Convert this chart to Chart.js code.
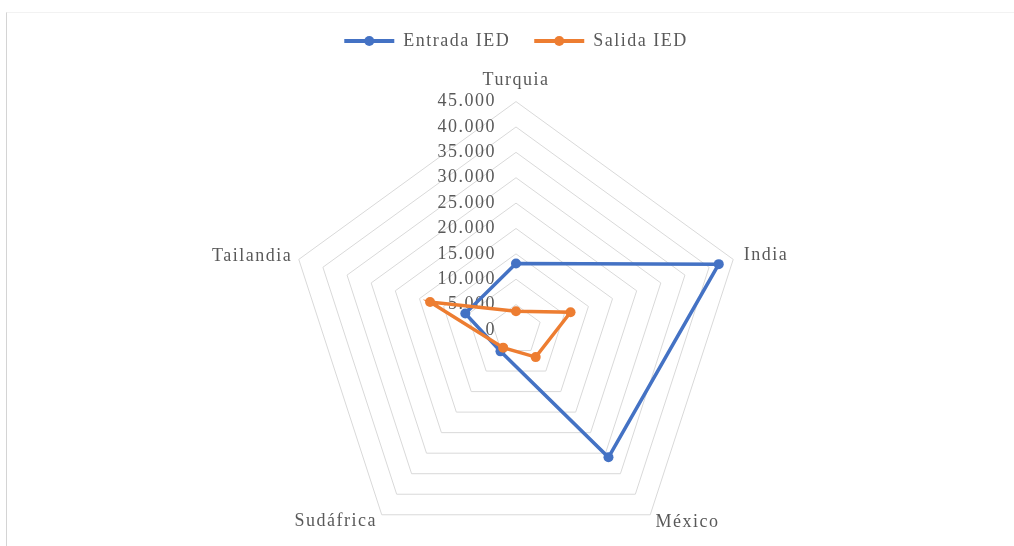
<!DOCTYPE html>
<html lang="es">
<head>
<meta charset="utf-8">
<title>Entrada y salida de IED</title>
<script src="https://cdn.jsdelivr.net/npm/chart.js@4.4.1/dist/chart.umd.min.js"></script>
<style>
  html, body { margin: 0; padding: 0; background: #fff; overflow: hidden; width: 1014px; height: 546px; }
  #marco { position: absolute; left: 6px; top: 12px; width: 1100px; height: 600px;
           border-left: 1px solid #d4d4d4; border-top: 1px solid #f2f2f2; }
  /* el lienzo sigue algo por debajo del borde inferior visible */
  #grafico { position: absolute; left: 0; top: 0; width: 1014px; height: 576px; }
</style>
</head>
<body>
<div id="marco"></div>
<div id="grafico"><canvas id="radar"></canvas></div>
<script>
"use strict";

// datos (millones de USD)
var paises = ['Turquia', 'India', 'México', 'Sudáfrica', 'Tailandia'];
var entradaIED = [13100, 42000, 31000, 5200, 10500];
var salidaIED = [3700, 11300, 6600, 4300, 17800];
var escalaMax = 45000;
var escalaPaso = 5000;

var colorTexto = '#595959';
var serif = "'Liberation Serif', 'Times New Roman', serif";
var azul = '#4472C4';
var naranja = '#ED7D31';

function formatoMiles(v) {
    return String(v).replace(/\B(?=(\d{3})+(?!\d))/g, '.');
}

// texto algo más espaciado, como en la hoja original
var espaciado = {
    id: 'espaciado',
    beforeLayout: function (chart) { chart.ctx.letterSpacing = '1.5px'; },
    beforeDraw: function (chart) { chart.ctx.letterSpacing = '1.5px'; }
};

// etiquetas del eje a la izquierda del eje vertical, por debajo de las series
var etiquetasEje = {
    id: 'etiquetasEje',
    beforeDatasetsDraw: function (chart) {
        var scale = chart.scales.r;
        var ctx = chart.ctx;
        ctx.save();
        ctx.font = '18px ' + serif;
        ctx.fillStyle = colorTexto;
        ctx.textAlign = 'right';
        ctx.textBaseline = 'middle';
        scale.ticks.forEach(function (tick) {
            var d = scale.getDistanceFromCenterForValue(tick.value);
            ctx.fillText(tick.label, scale.xCenter - 20, scale.yCenter - d);
        });
        ctx.restore();
    }
};

// punto en medio de la línea de la leyenda
var marcadorLeyenda = {
    id: 'marcadorLeyenda',
    afterDraw: function (chart) {
        var legend = chart.legend;
        var labels = legend.options.labels;
        var ctx = chart.ctx;
        ctx.save();
        legend.legendItems.forEach(function (item, i) {
            var box = legend.legendHitBoxes[i];
            ctx.fillStyle = item.strokeStyle;
            ctx.beginPath();
            ctx.arc(box.left + labels.boxWidth / 2, box.top + labels.font.size / 2, 5, 0, Math.PI * 2);
            ctx.fill();
        });
        ctx.restore();
    }
};

var radarCtx = document.getElementById('radar');
var radar = new Chart(radarCtx, {
    type: 'radar',
    data: {
        labels: paises,
        datasets: [{
            label: 'Entrada IED',
            data: entradaIED,
            borderColor: azul,
            backgroundColor: azul,
            pointBackgroundColor: azul,
            borderWidth: 3.5,
            pointRadius: 5,
            pointBorderWidth: 0,
            fill: false,
            order: 1
        }, {
            label: 'Salida IED',
            data: salidaIED,
            borderColor: naranja,
            backgroundColor: naranja,
            pointBackgroundColor: naranja,
            borderWidth: 3.5,
            pointRadius: 5,
            pointBorderWidth: 0,
            fill: false,
            order: 0
        }]
    },
    options: {
        responsive: true,
        maintainAspectRatio: false,
        animation: false,
        layout: {
            padding: { top: 8, left: 18, right: 0, bottom: 0 }
        },
        scales: {
            r: {
                min: 0,
                max: escalaMax,
                ticks: {
                    stepSize: escalaPaso,
                    display: false,
                    callback: formatoMiles
                },
                grid: { color: '#d9d9d9', lineWidth: 1 },
                angleLines: { display: false },
                pointLabels: {
                    color: colorTexto,
                    padding: function (c) { return [11, 11, 9, 8, 7][c.index]; },
                    font: function (c) {
                        return { family: serif, size: 18, lineHeight: c.index === 0 ? 1.2 : '1px' };
                    }
                }
            }
        },
        plugins: {
            tooltip: { enabled: false },
            legend: {
                position: 'top',
                maxHeight: 45,
                labels: {
                    boxWidth: 50,
                    boxHeight: 4,
                    padding: 24,
                    color: colorTexto,
                    font: { family: serif, size: 18 },
                    sort: function (a, b) { return a.datasetIndex - b.datasetIndex; },
                    generateLabels: function (chart) {
                        return Chart.defaults.plugins.legend.labels.generateLabels(chart).map(function (item) {
                            item.lineWidth = 0;
                            item.fillStyle = item.strokeStyle;
                            return item;
                        });
                    }
                }
            }
        }
    },
    plugins: [espaciado, etiquetasEje, marcadorLeyenda]
});
</script>
</body>
</html>
